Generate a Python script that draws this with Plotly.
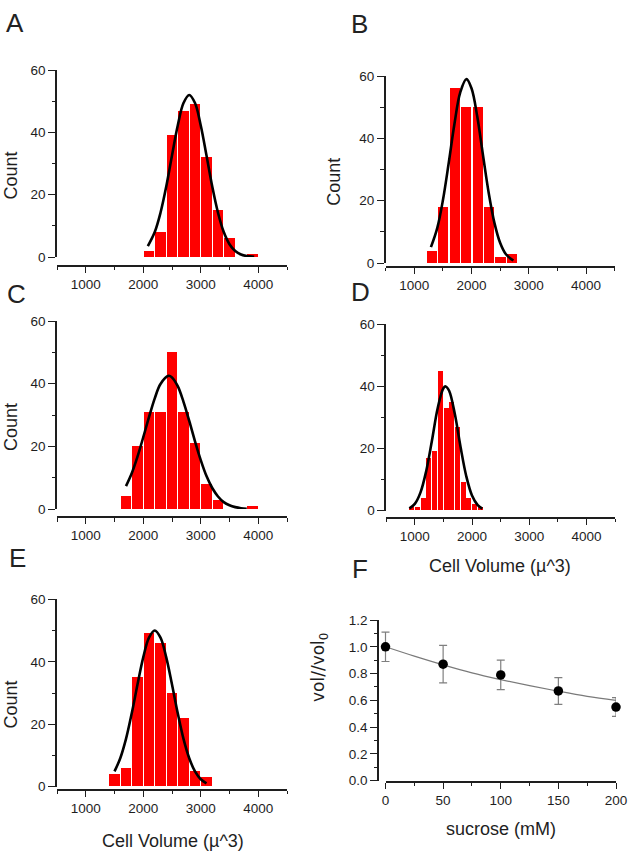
import plotly.graph_objects as go

W, H = 636, 851

# ---------------- data ----------------
a_bins = [2100, 2300, 2500, 2700, 2900, 3100, 3300, 3500, 3700, 3900]
a_counts = [2, 8, 39, 47, 49, 32, 15, 6, 0, 1]
a_fit_x = [2080, 2200, 2300, 2400, 2500, 2600, 2700, 2800, 2900, 3000, 3100, 3200, 3300, 3400, 3500, 3600, 3700, 3800, 3930]
a_fit_y = [3.5, 8.0, 14.2, 22.6, 32.6, 42.2, 49.4, 52.0, 49.4, 42.2, 32.6, 22.6, 14.2, 8.0, 4.1, 1.9, 0.8, 0.3, 0.1]

b_bins = [1300, 1500, 1700, 1900, 2100, 2300, 2500, 2700]
b_counts = [4, 18, 56, 50, 50, 18, 2, 3]
b_fit_x = [1290, 1400, 1500, 1600, 1700, 1800, 1910, 2000, 2100, 2200, 2300, 2400, 2500, 2600, 2730]
b_fit_y = [5.1, 11.2, 20.2, 32.0, 44.5, 54.6, 59.0, 56.0, 46.9, 34.5, 22.4, 12.8, 6.4, 2.8, 0.8]

c_bins = [1700, 1900, 2100, 2300, 2500, 2700, 2900, 3100, 3300, 3500, 3700, 3900]
c_counts = [4, 20, 31, 31, 50, 31, 21, 8, 3, 0, 0, 1]
c_fit_x = [1700, 1800, 1900, 2000, 2100, 2200, 2300, 2440, 2500, 2600, 2700, 2800, 2900, 3000, 3100, 3200, 3300, 3400, 3500, 3600, 3700, 3800]
c_fit_y = [7.3, 11.4, 16.7, 22.9, 29.3, 35.3, 39.9, 42.5, 42.0, 39.2, 34.2, 28.1, 21.6, 15.6, 10.5, 6.7, 4.0, 2.2, 1.2, 0.6, 0.25, 0.1]

d_bins = [950, 1050, 1150, 1250, 1350, 1450, 1550, 1650, 1750, 1850, 1950, 2050, 2150]
d_counts = [1, 1, 4, 17, 19, 45, 33, 35, 27, 9, 4, 2, 1]
d_fit_x = [905, 1000, 1100, 1200, 1300, 1400, 1500, 1540, 1600, 1700, 1800, 1900, 2000, 2100, 2180]
d_fit_y = [0.75, 2.2, 5.9, 12.8, 22.6, 33.0, 39.4, 40.0, 38.6, 31.1, 20.5, 11.1, 4.9, 1.8, 0.7]

e_bins = [1500, 1700, 1900, 2100, 2300, 2500, 2700, 2900, 3100]
e_counts = [4, 6, 35, 49, 46, 30, 22, 5, 3]
e_fit_x = [1500, 1600, 1700, 1800, 1900, 2000, 2100, 2200, 2300, 2400, 2500, 2600, 2700, 2800, 2900, 3000, 3100]
e_fit_y = [4.9, 9.1, 15.3, 23.5, 32.7, 41.4, 47.7, 50.0, 47.7, 41.4, 32.7, 23.5, 15.3, 9.1, 4.9, 2.4, 1.1]

f_sucrose = [0, 50, 100, 150, 200]
f_vol = [1.0, 0.87, 0.79, 0.67, 0.55]
f_err = [0.11, 0.14, 0.11, 0.10, 0.07]
f_fit_x = [0, 25, 50, 75, 100, 125, 150, 175, 200]
f_fit_y = [1.0, 0.93, 0.865, 0.805, 0.755, 0.71, 0.668, 0.63, 0.60]

hist_xticks = [1000, 2000, 3000, 4000]
hist_xminor = [500, 1500, 2500, 3500, 4500]
hist_yticks = [0, 20, 40, 60]
hist_yminor = [10, 30, 50]
f_xticks = [0, 50, 100, 150, 200]
f_yticks = [0.0, 0.2, 0.4, 0.6, 0.8, 1.0, 1.2]

# ---------------- helpers ----------------
FONT = "Liberation Sans, Arial, sans-serif"
INK = "#1e1e1e"
RED = "#ff0000"


def fx(p):
    return p / W


def fy(p):
    return 1 - p / H


tickfont = dict(family=FONT, size=13.5, color=INK)


def hist_xaxis(x0, x1, pos):
    return dict(domain=[fx(x0), fx(x1)], anchor="free", position=fy(pos),
                range=[500, 4500], tickmode="array", tickvals=hist_xticks,
                ticks="outside", ticklen=6, tickwidth=1.3, tickcolor=INK,
                showline=True, linecolor=INK, linewidth=1.6,
                minor=dict(tickmode="array", tickvals=hist_xminor, ticks="outside",
                           ticklen=3.5, tickwidth=1.3, tickcolor=INK, showgrid=False),
                showgrid=False, zeroline=False, tickfont=tickfont, automargin=False)


def hist_yaxis(xa, y_top, y_bot):
    return dict(domain=[fy(y_bot), fy(y_top)], anchor=xa, range=[0, 60],
                tickmode="array", tickvals=hist_yticks,
                ticks="outside", ticklen=7, tickwidth=1.3, tickcolor=INK,
                showline=True, linecolor=INK, linewidth=1.6,
                minor=dict(tickmode="array", tickvals=hist_yminor, ticks="outside",
                           ticklen=3.5, tickwidth=1.3, tickcolor=INK, showgrid=False),
                showgrid=False, zeroline=False, tickfont=tickfont, automargin=False)


fig = go.Figure()

panels = [
    ("x", "y", a_bins, a_counts, a_fit_x, a_fit_y, 176),
    ("x2", "y2", b_bins, b_counts, b_fit_x, b_fit_y, 176),
    ("x3", "y3", c_bins, c_counts, c_fit_x, c_fit_y, 176),
    ("x4", "y4", d_bins, d_counts, d_fit_x, d_fit_y, 87),
    ("x5", "y5", e_bins, e_counts, e_fit_x, e_fit_y, 176),
]
for xa, ya, bins, counts, fxs, fys, bw in panels:
    fig.add_trace(go.Bar(x=bins, y=counts, width=bw, xaxis=xa, yaxis=ya,
                         marker=dict(color=RED, line=dict(width=0)), showlegend=False))
    fig.add_trace(go.Scatter(x=fxs, y=fys, xaxis=xa, yaxis=ya, mode="lines",
                             line=dict(color="black", width=2.6, shape="spline", smoothing=1.0),
                             showlegend=False))

# Panel F: visible x axis (x6) spans 0..200; data on an invisible, slightly wider twin (x7)
F_X0, F_X1, F_YAX = 385.5, 616.0, 379.0
f_scale = (F_X1 - F_X0) / 200.0
f_left = -(F_X0 - F_YAX) / f_scale

fig.add_trace(go.Scatter(x=f_fit_x, y=f_fit_y, xaxis="x7", yaxis="y6", mode="lines",
                         line=dict(color="#7a7a7a", width=1.2, shape="spline"), showlegend=False))
fig.add_trace(go.Scatter(x=f_sucrose, y=f_vol, xaxis="x7", yaxis="y6", mode="markers",
                         marker=dict(color="black", size=9.5),
                         error_y=dict(type="data", array=f_err, color="#7f7f7f", thickness=1.2, width=4),
                         cliponaxis=False, showlegend=False))
# carrier for the visible 0..200 axis (same points, fully transparent)
fig.add_trace(go.Scatter(x=f_sucrose, y=f_vol, xaxis="x6", yaxis="y6", mode="markers",
                         marker=dict(color="rgba(0,0,0,0)", size=1), hoverinfo="skip",
                         showlegend=False))

layout = dict(
    width=W, height=H, margin=dict(l=0, r=0, t=0, b=0, pad=0, autoexpand=False),
    paper_bgcolor="white", plot_bgcolor="rgba(0,0,0,0)", bargap=0,
    xaxis=hist_xaxis(57, 287, 266),
    yaxis=hist_yaxis("x", 70, 257),
    xaxis2=hist_xaxis(385.7, 614.7, 267),
    yaxis2=hist_yaxis("x2", 76, 263),
    xaxis3=hist_xaxis(57, 287, 517.3),
    yaxis3=hist_yaxis("x3", 321, 509),
    xaxis4=hist_xaxis(386.2, 615.0, 517.7),
    yaxis4=hist_yaxis("x4", 324.3, 510.7),
    xaxis5=hist_xaxis(57, 287, 790),
    yaxis5=hist_yaxis("x5", 599.3, 786.7),
    xaxis6=dict(domain=[fx(F_X0), fx(F_X1)], anchor="y6", range=[0, 200],
                tickmode="array", tickvals=f_xticks,
                ticks="outside", ticklen=6, tickwidth=1.3, tickcolor=INK,
                showline=True, linecolor=INK, linewidth=1.6,
                minor=dict(dtick=25, tick0=0, ticks="outside", ticklen=3.5, tickwidth=1.3,
                           tickcolor=INK, showgrid=False),
                showgrid=False, zeroline=False, tickfont=tickfont, automargin=False),
    xaxis7=dict(domain=[fx(F_YAX), fx(F_X1)], anchor="y6", range=[f_left, 200],
                showline=False, showticklabels=False, ticks="", showgrid=False,
                zeroline=False, automargin=False),
    yaxis6=dict(domain=[fy(780.7), fy(620)], anchor="x7", range=[0, 1.2],
                tickmode="array", tickvals=f_yticks, tickformat=".1f",
                ticks="outside", ticklen=7, tickwidth=1.3, tickcolor=INK,
                showline=True, linecolor=INK, linewidth=1.6,
                minor=dict(dtick=0.1, tick0=0, ticks="outside", ticklen=3.5, tickwidth=1.3,
                           tickcolor=INK, showgrid=False),
                showgrid=False, zeroline=False, tickfont=tickfont, automargin=False),
)
fig.update_layout(**layout)

annotations = []
for letter, lx, ly in [("A", 4, 23), ("B", 349, 24), ("C", 5, 294),
                       ("D", 349, 292), ("E", 7, 558), ("F", 349.5, 569)]:
    annotations.append(dict(text=letter, x=fx(lx), y=fy(ly), xref="paper", yref="paper",
                            xanchor="left", yanchor="middle", showarrow=False,
                            font=dict(family=FONT, size=26, color="#222")))
for cx, cy in [(10.5, 176), (334, 181.7), (10.5, 427.5), (10.5, 705)]:
    annotations.append(dict(text="Count", x=fx(cx), y=fy(cy), xref="paper", yref="paper",
                            xanchor="center", yanchor="middle", textangle=-90, showarrow=False,
                            borderpad=0, font=dict(family=FONT, size=18, color=INK)))
annotations.append(dict(text="vol//vol<sub>0</sub>", x=fx(319), y=fy(668), xref="paper", yref="paper",
                        xanchor="center", yanchor="middle", textangle=-90, showarrow=False,
                        borderpad=0, font=dict(family="DejaVu Sans, sans-serif", size=17, color=INK)))
for txt, cx, cy in [("Cell Volume (µ^3)", 500, 566), ("Cell Volume (µ^3)", 172.5, 841),
                    ("sucrose (mM)", 500.5, 829)]:
    annotations.append(dict(text=txt, x=fx(cx), y=fy(cy), xref="paper", yref="paper",
                            xanchor="center", yanchor="middle", showarrow=False,
                            font=dict(family=FONT, size=18, color=INK)))
fig.update_layout(annotations=annotations)

fig.write_html("out.html", config={"displayModeBar": False},
               post_script="document.body.style.margin='0';document.body.style.overflow='hidden';")
